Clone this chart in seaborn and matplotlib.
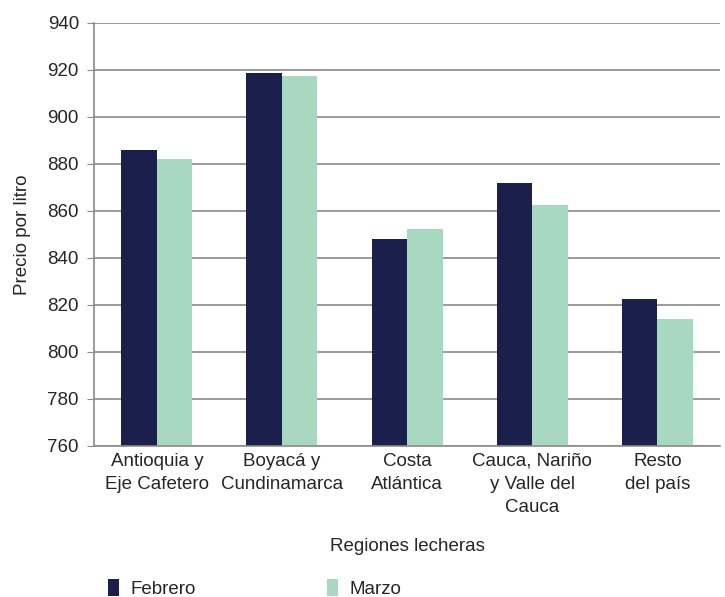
import numpy as np
import pandas as pd
import matplotlib.pyplot as plt
import seaborn as sns

regiones = ["Antioquia y\nEje Cafetero", "Boyacá y\nCundinamarca", "Costa\nAtlántica",
			"Cauca, Nariño\ny Valle del\nCauca", "Resto\ndel país"]
febrero = [885.7, 918.7, 848.2, 872.0, 822.4]
marzo = [882.0, 917.4, 852.3, 862.6, 814.2]
meses = ["Febrero", "Marzo"]
y_ticks = [760, 780, 800, 820, 840, 860, 880, 900, 920, 940]

df = pd.DataFrame({
	"region": regiones * 2,
	"mes": [meses[0]] * len(regiones) + [meses[1]] * len(regiones),
	"precio": febrero + marzo,
})

sns.set_style("white")
plt.rcParams['font.family'] = ['Liberation Sans', 'DejaVu Sans']

fig = plt.figure(figsize=(7.25, 5.97), dpi=100)
ax = fig.add_axes([0.130, 0.253, 0.863, 0.709])

ax.yaxis.grid(True, color="#8a8a8a", linewidth=1.2)
ax.set_axisbelow(True)

sns.barplot(ax=ax, data=df, x="region", y="precio", hue="mes",
			order=regiones, hue_order=meses,
			palette={"Febrero": "#1a1f4b", "Marzo": "#a8d8c0"},
			width=0.567, saturation=1, linewidth=0)

ax.set_ylim(760, 940)
ax.set_yticks(y_ticks)
ax.tick_params(axis="y", labelsize=13.5, length=5, color="#8a8a8a", left=True, pad=6)
ax.tick_params(axis="x", labelsize=13.5, length=0, pad=5)
for lbl in ax.get_xticklabels():
	lbl.set_linespacing(1.45)
for s in ["top", "right"]:
	ax.spines[s].set_visible(False)
for s in ["left", "bottom"]:
	ax.spines[s].set_color("#8a8a8a")
	ax.spines[s].set_linewidth(1.2)

ax.set_xlabel("Regiones lecheras", fontsize=13.5, labelpad=16)
ax.set_ylabel("Precio por litro", fontsize=13.5, labelpad=12)

handles, labels = ax.get_legend_handles_labels()
ax.legend_.remove()
fig.legend(handles, labels, loc="lower left", bbox_to_anchor=(0.125, -0.03), ncol=2,
		   frameon=False, fontsize=13.5, columnspacing=7.0, handlelength=0.6,
		   handleheight=1.0, handletextpad=0.6)

plt.savefig("out.png", dpi=100)
